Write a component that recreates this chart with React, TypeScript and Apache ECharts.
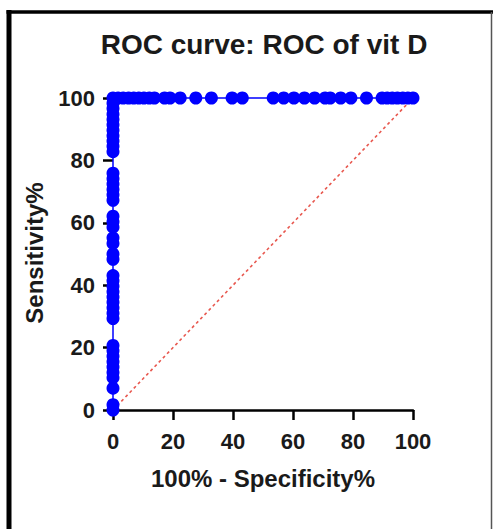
import React, { useEffect, useRef } from "react";
import * as echarts from "echarts";

const titleText = "ROC curve: ROC of vit D";
const xAxisTitle = "100% - Specificity%";
const yAxisTitle = "Sensitivity%";
const xTicks = [0, 20, 40, 60, 80, 100];

// Sensitivity values along the vertical part of the curve (100% - specificity = 0)
const verticalSens = [
  0, 1.7, 7, 10.3, 12, 13.8, 15.5, 17.2, 19, 20.7, 29.3, 31, 32.8, 34.5, 36.2,
  37.9, 39.7, 41.4, 43.1, 48.3, 50, 53.4, 55.2, 58.6, 60.3, 62.1, 67.2, 69, 70.7,
  72.4, 74.1, 75.9, 82.8, 84.5, 86.2, 87.9, 89.7, 91.4, 93.1, 94.8, 96.6, 98.3, 100,
];
// 100% - specificity values along the top of the curve (sensitivity = 100)
const topFpr = [
  0, 1.7, 3.4, 5.2, 6.9, 8.6, 10.3, 12.1, 13.8, 17.2, 19, 22.4, 27.6, 32.8, 39.7,
  43.1, 53.4, 56.9, 60.3, 63.8, 67.2, 70.7, 72.4, 75.9, 79.3, 84.5, 89.7, 91.4,
  93.1, 94.8, 96.6, 98.3, 100,
];
const diagonal = [
  [0, 0],
  [100, 100],
];

const FONT = "'Liberation Sans', Arial, sans-serif";

export default function App() {
  const ref = useRef<HTMLDivElement>(null);
  useEffect(() => {
    document.body.style.margin = "0";
    if (!ref.current) return;
    const chart = echarts.init(ref.current, null, { renderer: "svg" });
    const rocData: number[][] = [
      ...verticalSens.map((s) => [0, s]),
      ...topFpr.slice(1).map((f) => [f, 100]),
    ];
    chart.setOption({
      animation: false,
      backgroundColor: "#ffffff",
      grid: { left: 113, right: 80, top: 98, bottom: 119, containLabel: false },
      xAxis: {
        type: "value",
        min: 0,
        max: 100,
        interval: 20,
        axisLine: { show: true, onZero: false, lineStyle: { color: "#000", width: 2.5 } },
        axisTick: { show: true, length: 10, lineStyle: { color: "#000", width: 2.5 } },
        axisLabel: {
          color: "#1a1a1a",
          fontFamily: FONT,
          fontSize: 22,
          fontWeight: "bold",
          margin: 20,
          customValues: xTicks,
        },
        splitLine: { show: false },
      },
      yAxis: {
        type: "value",
        min: 0,
        max: 100,
        interval: 20,
        axisLine: { show: false },
        axisTick: { show: true, length: 10, lineStyle: { color: "#000", width: 2.5 } },
        axisLabel: {
          color: "#1a1a1a",
          fontFamily: FONT,
          fontSize: 22,
          fontWeight: "bold",
          margin: 18,
        },
        splitLine: { show: false },
      },
      series: [
        {
          type: "line",
          data: diagonal,
          symbol: "none",
          clip: false,
          lineStyle: { color: "#e8584f", width: 1.6, type: [3, 3] },
          z: 2,
        },
        {
          type: "line",
          data: rocData,
          symbol: "circle",
          symbolSize: 13,
          clip: false,
          itemStyle: { color: "#0000ff" },
          lineStyle: { color: "#0000ff", width: 1.5 },
          z: 3,
        },
      ],
      graphic: [
        {
          type: "line",
          shape: { x1: 9, y1: 10, x2: 9, y2: 529 },
          style: { stroke: "#000", lineWidth: 5 },
        },
        {
          type: "line",
          shape: { x1: 6.5, y1: 12, x2: 493, y2: 12 },
          style: { stroke: "#000", lineWidth: 3.5 },
        },
        {
          type: "line",
          shape: { x1: 491.5, y1: 12, x2: 491.5, y2: 529 },
          style: { stroke: "#555", lineWidth: 1.5 },
        },
        {
          type: "text",
          x: 264,
          y: 44,
          style: {
            text: titleText,
            fill: "#1a1a1a",
            font: `bold 28px ${FONT}`,
            textAlign: "center",
            textVerticalAlign: "middle",
          },
        },
        {
          type: "text",
          x: 263,
          y: 478,
          style: {
            text: xAxisTitle,
            fill: "#1a1a1a",
            font: `bold 24px ${FONT}`,
            textAlign: "center",
            textVerticalAlign: "middle",
          },
        },
        {
          type: "text",
          x: 34,
          y: 253,
          rotation: Math.PI / 2,
          style: {
            text: yAxisTitle,
            fill: "#1a1a1a",
            font: `bold 24px ${FONT}`,
            textAlign: "center",
            textVerticalAlign: "middle",
          },
        },
      ],
    });
    return () => chart.dispose();
  }, []);
  return <div ref={ref} style={{ width: 493, height: 529 }} />;
}
